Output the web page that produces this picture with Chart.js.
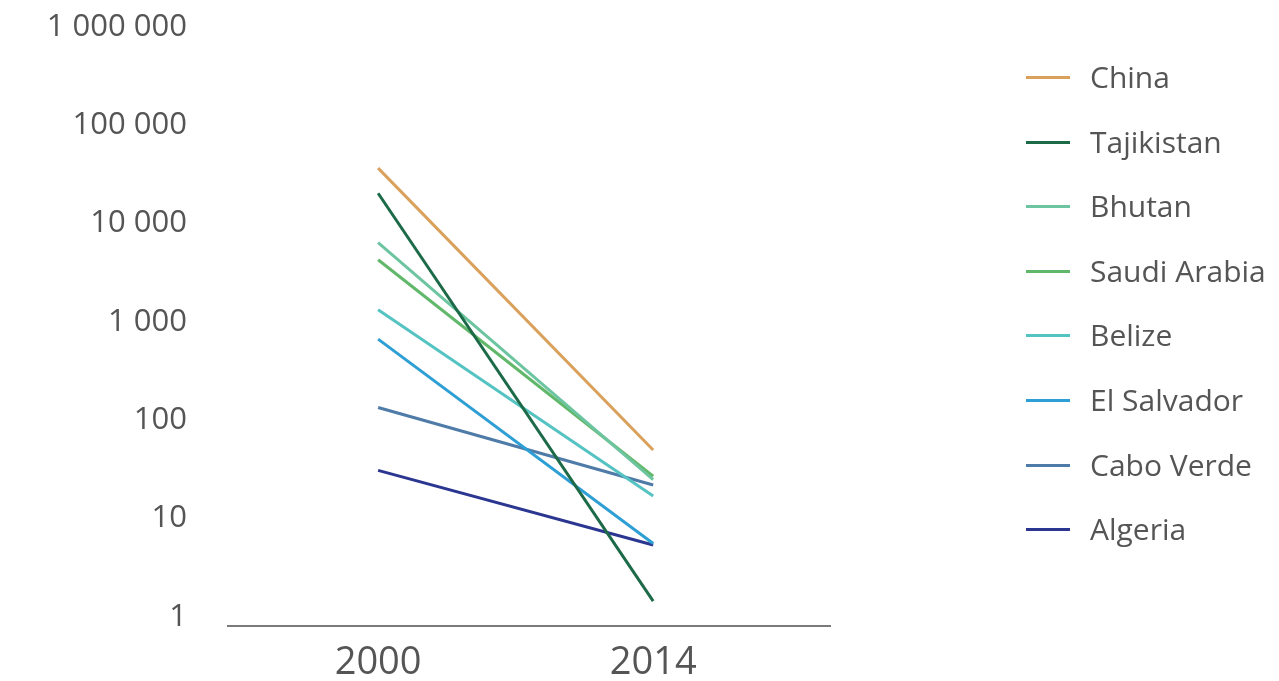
<!DOCTYPE html>
<html>
<head>
<meta charset="utf-8">
<script src="https://cdn.jsdelivr.net/npm/chart.js@4"></script>
<style>
    html, body { margin: 0; padding: 0; background: #fff; }
    #wrap { position: relative; width: 1279px; height: 681px; }
    #chart { position: absolute; left: 0; top: 0; }
    #legend { position: absolute; left: 1026px; top: 54px; font-family: "Open Sans", sans-serif; }
    .legend-item { height: 64.6px; display: flex; align-items: flex-start; }
    .legend-line { width: 44px; height: 3px; margin-top: 22px; margin-right: 20px; }
    .legend-label { font-size: 30px; color: #555; line-height: 46px; white-space: nowrap; }
</style>
</head>
<body>
<div id="wrap">
    <canvas id="chart" width="1279" height="681"></canvas>
    <div id="legend"></div>
</div>
<script>
// Years on the x axis
const years = [2000, 2014];

// Country series (2000 value, 2014 value), log scale
const countries = ['China', 'Tajikistan', 'Bhutan', 'Saudi Arabia', 'Belize', 'El Salvador', 'Cabo Verde', 'Algeria'];
const china = [36700, 50];
const tajikistan = [20400, 1.45];
const bhutan = [6400, 25];
const saudiArabia = [4300, 27];
const belize = [1330, 17];
const elSalvador = [670, 5.6];
const caboVerde = [135, 22];
const algeria = [31, 5.4];

const seriesValues = [china, tajikistan, bhutan, saudiArabia, belize, elSalvador, caboVerde, algeria];
const seriesColors = ['#d9a15c', '#1d6a48', '#6cc5a0', '#62b86a', '#55c3c2', '#2d9fd4', '#4f7ba8', '#2b3690'];

// Y axis ticks
const yTickValues = [1, 10, 100, 1000, 10000, 100000, 1000000];
const yTickLabels = ['1', '10', '100', '1 000', '10 000', '100 000', '1 000 000'];

const fontFamily = '"Open Sans", sans-serif';

function buildDatasets() {
    return countries.map((name, i) => ({
        label: name,
        data: years.map((yr, j) => ({ x: yr, y: seriesValues[i][j] })),
        borderColor: seriesColors[i],
        backgroundColor: seriesColors[i],
        borderWidth: 3,
        pointRadius: 0,
        fill: false,
        tension: 0
    }));
}

function renderLegend() {
    const box = document.getElementById('legend');
    countries.forEach((name, i) => {
        const item = document.createElement('div');
        item.className = 'legend-item';
        const line = document.createElement('span');
        line.className = 'legend-line';
        line.style.backgroundColor = seriesColors[i];
        const label = document.createElement('span');
        label.className = 'legend-label';
        label.textContent = name;
        item.appendChild(line);
        item.appendChild(label);
        box.appendChild(item);
    });
}

function createChart() {
    const ctx = document.getElementById('chart');
    new Chart(ctx, {
        type: 'line',
        data: { datasets: buildDatasets() },
        options: {
            responsive: false,
            animation: false,
            layout: { padding: { top: 27, right: 449, bottom: 0, left: 0 } },
            plugins: {
                legend: { display: false },
                tooltip: { enabled: false }
            },
            scales: {
                x: {
                    type: 'linear',
                    min: 1992.36,
                    max: 2023.0,
                    grid: { display: false },
                    border: { display: true, color: '#7a7a7a', width: 2 },
                    afterBuildTicks: function(scale) {
                        scale.ticks = years.map(v => ({ value: v }));
                    },
                    afterFit: function(scale) {
                        scale.height = 55;
                        scale.paddingLeft = 0;
                        scale.paddingRight = 0;
                    },
                    ticks: {
                        padding: 6,
                        color: '#555',
                        font: { family: fontFamily, size: 38 },
                        callback: function(value) { return String(value); }
                    }
                },
                y: {
                    type: 'logarithmic',
                    min: 0.81,
                    max: 1000000,
                    grid: { display: false },
                    border: { display: false },
                    afterBuildTicks: function(scale) {
                        scale.ticks = yTickValues.map(v => ({ value: v }));
                    },
                    afterFit: function(scale) {
                        scale.width = 228;
                        scale.paddingTop = 0;
                        scale.paddingBottom = 0;
                    },
                    ticks: {
                        padding: 33,
                        color: '#555',
                        font: { family: fontFamily, size: 31 },
                        callback: function(value) {
                            const idx = yTickValues.indexOf(value);
                            return idx >= 0 ? yTickLabels[idx] : '';
                        }
                    }
                }
            }
        }
    });
}

renderLegend();
createChart();
</script>
</body>
</html>
